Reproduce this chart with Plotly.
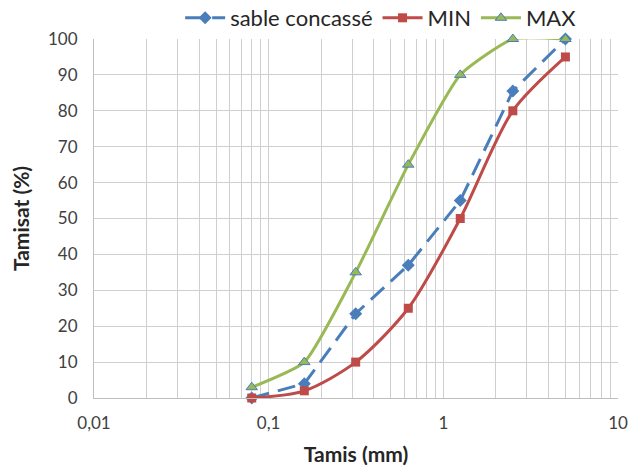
import plotly.graph_objects as go

# Sieve openings (mm) and cumulative passing (%)
tamis = [0.08, 0.16, 0.315, 0.63, 1.25, 2.5, 5]
sable_concasse = [0, 4, 23.5, 37, 55, 85.5, 100]
fuseau_min = [0, 2, 10, 25, 50, 80, 95]
fuseau_max = [3, 10, 35, 65, 90, 100, 100]

# Log-axis ticks: decades are labelled, intermediate values only carry grid lines
x_tick_vals = [m * 10 ** e for e in (-2, -1, 0) for m in range(1, 10)] + [10]
x_tick_text = ["0,01" if v == 0.01 else "0,1" if v == 0.1 else "1" if v == 1 else "10" if v == 10 else ""
               for v in x_tick_vals]
y_tick_vals = list(range(0, 101, 10))

BLUE = "#4A7EBB"
RED = "#BE4B48"
GREEN = "#98B954"
FONT = "Lato"

fig = go.Figure()

fig.add_trace(go.Scatter(
    x=tamis, y=sable_concasse, name="sable concassé", mode="lines+markers",
    line=dict(color=BLUE, width=3, dash="18px,9px"),
    marker=dict(symbol="diamond", size=10, color=BLUE),
    cliponaxis=False,
))
fig.add_trace(go.Scatter(
    x=tamis, y=fuseau_min, name="MIN", mode="lines+markers",
    line=dict(color=RED, width=3, shape="spline", smoothing=0.8),
    marker=dict(symbol="square", size=9, color=RED),
    cliponaxis=False,
))
fig.add_trace(go.Scatter(
    x=tamis, y=fuseau_max, name="MAX", mode="lines+markers",
    line=dict(color=GREEN, width=3, shape="spline", smoothing=0.5),
    marker=dict(symbol="triangle-up", size=10, color=GREEN,
                line=dict(color=BLUE, width=1)),
    cliponaxis=False,
))

fig.update_layout(
    width=642, height=471,
    margin=dict(l=94, r=24, t=39, b=73, autoexpand=False),
    paper_bgcolor="white", plot_bgcolor="white",
    font=dict(family=FONT, size=17, color="#404040"),
    legend=dict(orientation="h", x=0.548, xanchor="center", y=1.0, yanchor="bottom",
                font=dict(family=FONT, size=22, color="#262626"),
                bgcolor="rgba(0,0,0,0)", itemwidth=40, tracegroupgap=0),
    showlegend=True,
)

fig.update_xaxes(
    type="log", range=[-2, 1], automargin=False,
    tickmode="array", tickvals=x_tick_vals, ticktext=x_tick_text,
    showgrid=True, gridcolor="#CFCFCF", gridwidth=1,
    showline=True, linecolor="#BFBFBF", linewidth=1, mirror=False,
    ticks="", ticklabelstandoff=10,
    tickfont=dict(family=FONT, size=17, color="#404040"),
    title=dict(text="<b>Tamis (mm)</b>", font=dict(family=FONT, size=21, color="#262626"),
               standoff=14),
    zeroline=False,
)
fig.update_yaxes(
    range=[0, 100], automargin=False,
    tickmode="array", tickvals=y_tick_vals,
    showgrid=True, gridcolor="#CFCFCF", gridwidth=1,
    showline=True, linecolor="#BFBFBF", linewidth=1,
    ticks="", ticklabelstandoff=12,
    tickfont=dict(family=FONT, size=17, color="#404040"),
    title=dict(text="<b>Tamisat (%)</b>", font=dict(family=FONT, size=21, color="#262626"),
               standoff=12),
    zeroline=False,
)

fig.write_html("out.html")
